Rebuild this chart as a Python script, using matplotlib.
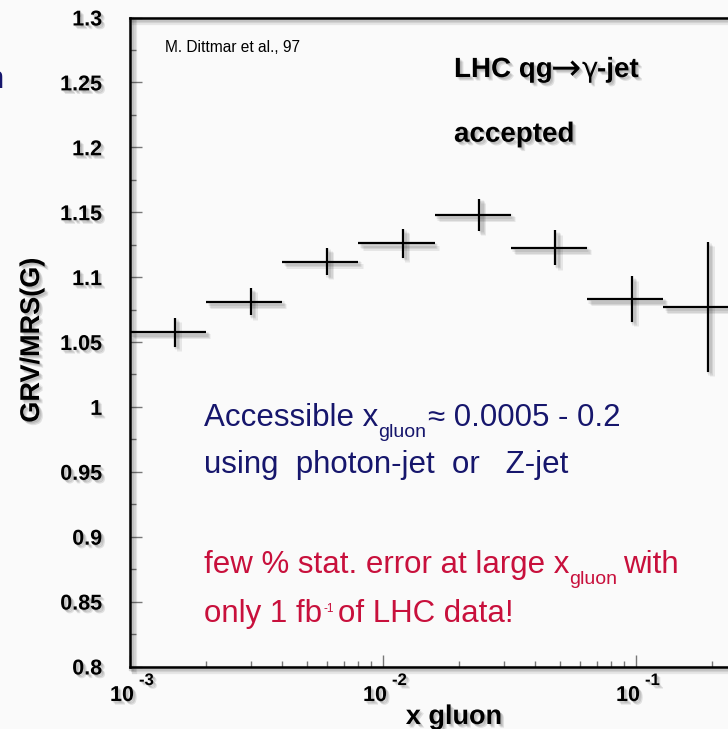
import matplotlib
matplotlib.use('Agg')
import matplotlib.pyplot as plt
import matplotlib.patheffects as pe
import matplotlib.transforms as mtransforms
from matplotlib.ticker import LogLocator, FixedLocator, MultipleLocator, NullFormatter, FormatStrFormatter

plt.rcParams['font.family'] = ['Liberation Sans', 'DejaVu Sans']

# ---- data (x gluon bins, GRV/MRS(G) ratio, stat. error) ----
bin_lo = [0.001, 0.002, 0.004, 0.008, 0.016, 0.032, 0.064, 0.128]
bin_hi = [0.002, 0.004, 0.008, 0.016, 0.032, 0.064, 0.128, 0.256]
x_center = [0.0015, 0.003, 0.006, 0.012, 0.024, 0.048, 0.096, 0.192]
ratio = [1.0575, 1.081, 1.112, 1.126, 1.148, 1.1225, 1.083, 1.077]
stat_err = [0.011, 0.0105, 0.0105, 0.011, 0.0125, 0.0135, 0.0175, 0.050]

ytick_vals = [0.8, 0.85, 0.9, 0.95, 1.0, 1.05, 1.1, 1.15, 1.2, 1.25, 1.3]
xtick_decades = [1e-3, 1e-2, 1e-1]
xtick_exps = ['-3', '-2', '-1']

NAVY = '#16166c'
CRIMSON = '#c8103c'
BG = '#fafafa'

W, H = 728, 729
fig = plt.figure(figsize=(W / 100, H / 100), dpi=100, facecolor=BG)
ax = fig.add_axes([130 / W, 1 - 666.5 / H, 609.3 / W, 649 / H])
ax.set_facecolor(BG)
renderer = fig.canvas.get_renderer()


def text_shadow():
    return [pe.SimplePatchShadow(offset=(d, -d), shadow_rgbFace='k', alpha=0.10)
            for d in (1.0, 1.8, 2.6)] + [pe.Normal()]


def line_shadow(lw):
    return [pe.SimpleLineShadow(offset=(d, -d), shadow_color='k', alpha=0.08, linewidth=lw + 2)
            for d in (1.0, 2.0, 3.0)] + [pe.Normal()]


def ftext(px, py, s, **kw):
    """Place text at reference pixel coordinates (left/baseline by default)."""
    kw.setdefault('ha', 'left')
    kw.setdefault('va', 'baseline')
    return fig.text(px / W, 1 - py / H, s, **kw)


def chain(px, py, pieces, **common):
    """Pieces: (text, gap_before_px, baseline_shift_px, extra kwargs)."""
    x = px
    for s, gap, dy, kw in pieces:
        x += gap
        kws = dict(common)
        kws.update(kw)
        t = ftext(x, py + dy, s, **kws)
        bb = t.get_window_extent(renderer)
        x = bb.x1


# data with errors
xerr = [[c - lo for c, lo in zip(x_center, bin_lo)], [hi - c for c, hi in zip(x_center, bin_hi)]]
eb = ax.errorbar(x_center, ratio, xerr=xerr, yerr=stat_err, fmt='none',
                 ecolor='black', elinewidth=1.6, capsize=0, clip_on=False)
for coll in eb[2]:
    coll.set_path_effects(line_shadow(1.6))

ax.set_xscale('log')
ax.set_xlim(1e-3, 0.256)
ax.set_ylim(0.8, 1.3)

# spines
for side in ('left', 'top', 'bottom'):
    ax.spines[side].set_linewidth(1.8)
    ax.spines[side].set_color('black')
    ax.spines[side].set_path_effects(line_shadow(1.8))
ax.spines['right'].set_visible(False)

# ticks
ax.xaxis.set_major_locator(FixedLocator(xtick_decades))
ax.xaxis.set_minor_locator(LogLocator(base=10, subs=[2, 3, 4, 5, 6, 7, 8, 9], numticks=20))
ax.xaxis.set_minor_formatter(NullFormatter())
ax.yaxis.set_major_locator(FixedLocator(ytick_vals))
ax.yaxis.set_minor_locator(MultipleLocator(0.025))
ax.yaxis.set_major_formatter(FormatStrFormatter('%g'))
ax.tick_params(axis='both', which='major', direction='in', length=8.5, width=1.0, color='#777777')
ax.tick_params(axis='both', which='minor', direction='in', length=4.3, width=1.0, color='#777777')
ax.tick_params(axis='x', which='both', labelbottom=False, top=False)
ax.tick_params(axis='y', which='both', right=False, pad=20, labelsize=15.5)
for lbl in ax.get_yticklabels():
    lbl.set_fontweight('bold')
    lbl.set_path_effects(text_shadow())

# x tick labels "10" with superscript exponent
for t, e in zip(xtick_decades, xtick_exps):
    tr_main = ax.get_xaxis_transform() + mtransforms.ScaledTranslation(4 / 100, -34.5 / 100, fig.dpi_scale_trans)
    ax.text(t, 0, '10', transform=tr_main, ha='right', va='baseline', fontsize=15.5,
            fontweight='bold', path_effects=text_shadow(), clip_on=False)
    tr_sup = ax.get_xaxis_transform() + mtransforms.ScaledTranslation(9 / 100, -18.5 / 100, fig.dpi_scale_trans)
    ax.text(t, 0, e, transform=tr_sup, ha='left', va='baseline', fontsize=12,
            fontweight='bold', path_effects=text_shadow(), clip_on=False)

# axis titles
ftext(454, 724, 'x gluon', ha='center', fontsize=19.5, fontweight='bold', path_effects=text_shadow())
ftext(32, 340, 'GRV/MRS(G)', ha='center', va='center', rotation=90,
      fontsize=19.5, fontweight='bold', path_effects=text_shadow())

# annotations
ftext(165, 52.3, 'M. Dittmar et al., 97', fontsize=11.2)
ftext(454, 77, 'LHC qg', fontsize=20, fontweight='bold', path_effects=text_shadow())
ftext(551, 79.5, '\u2192', fontsize=26, family='DejaVu Sans', path_effects=text_shadow())
ftext(582, 77, '\u03b3', fontsize=20, family='DejaVu Sans', path_effects=text_shadow())
ftext(597, 77, '-jet', fontsize=20, fontweight='bold', path_effects=text_shadow())
ftext(454, 141.7, 'accepted', fontsize=20, fontweight='bold', path_effects=text_shadow())

chain(204, 426, [('Accessible x', 0, 0, {}),
                 ('gluon', 0, 11, {'fontsize': 14}),
                 ('\u2248 0.0005 - 0.2', 2, 0, {})],
      fontsize=22.5, color=NAVY)
ftext(204, 472.5, 'using  photon-jet  or   Z-jet', fontsize=22.5, color=NAVY)

chain(204, 573.3, [('few % stat. error at large x', 0, 0, {}),
                   ('gluon', 0, 11, {'fontsize': 14}),
                   ('with', 6, 0, {})],
      fontsize=22.5, color=CRIMSON)
chain(204, 621.7, [('only 1 fb', 0, 0, {}),
                   ('-1', 1, -9.5, {'fontsize': 8.5}),
                   ('of LHC data!', 5, 0, {})],
      fontsize=22.5, color=CRIMSON)

# fragment of slide text at the left edge
ftext(4, 88, 'n', ha='right', fontsize=22.5, color=NAVY)

fig.savefig('out.png', dpi=100, facecolor=BG)
